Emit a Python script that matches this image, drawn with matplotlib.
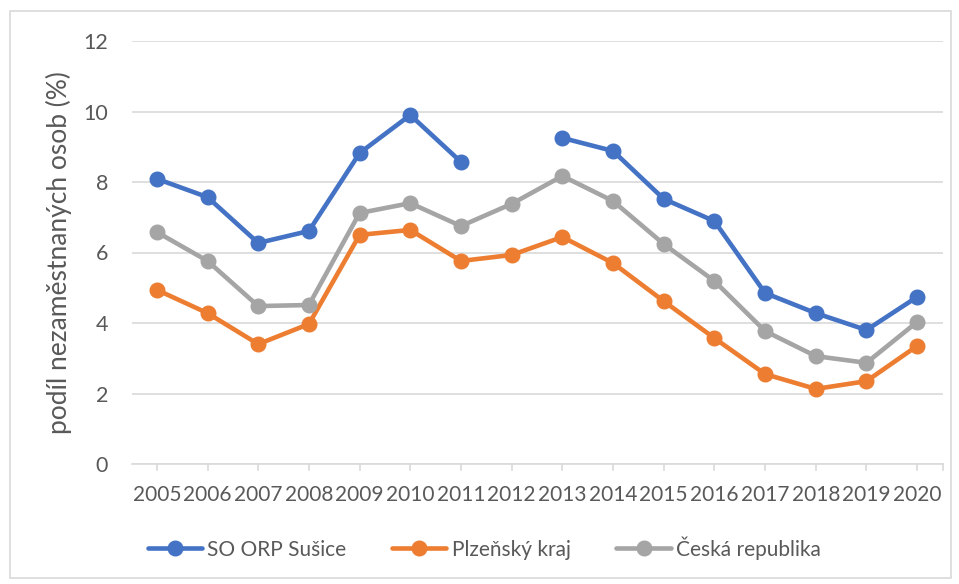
import numpy as np
import matplotlib
matplotlib.use('Agg')
import matplotlib.pyplot as plt
from matplotlib.patches import Rectangle

# data
years = ['2005', '2006', '2007', '2008', '2009', '2010', '2011', '2012',
         '2013', '2014', '2015', '2016', '2017', '2018', '2019', '2020']
susice = [8.09, 7.57, 6.27, 6.61, 8.82, 9.90, 8.57, np.nan,
          9.25, 8.88, 7.52, 6.89, 4.85, 4.28, 3.80, 4.74]
plzensky = [4.94, 4.28, 3.40, 3.97, 6.50, 6.64, 5.76, 5.93,
            6.44, 5.70, 4.62, 3.57, 2.55, 2.13, 2.35, 3.35]
cr = [6.58, 5.76, 4.48, 4.51, 7.12, 7.40, 6.75, 7.38,
      8.17, 7.46, 6.24, 5.19, 3.77, 3.06, 2.87, 4.03]
series_names = ['SO ORP Sušice', 'Plzeňský kraj', 'Česká republika']
colors = ['#4472C4', '#ED7D31', '#A5A5A5']

plt.rcParams['font.family'] = ['Lato', 'DejaVu Sans']
txt = '#595959'
grid = '#D9D9D9'

W, H = 959, 584
fig = plt.figure(figsize=(W / 100, H / 100), dpi=100)

# light frame around the whole chart (Excel chart area)
fig.patches.append(Rectangle((10 / W, 1 - 578 / H), 941 / W, 567 / H,
                             transform=fig.transFigure, fill=False,
                             edgecolor=grid, lw=1.2))

ax = fig.add_axes([131.5 / W, 120 / H, 811 / W, 423 / H])
x = np.arange(len(years))

for vals, name, c in zip([susice, plzensky, cr], series_names, colors):
    ax.plot(x, vals, color=c, lw=3.3, marker='o', markersize=10.5,
            label=name, solid_capstyle='round', zorder=3)

ax.set_xlim(-0.5, len(years) - 0.5)
ax.set_ylim(0, 12)
ax.set_yticks(np.arange(0, 13, 2))
ax.grid(axis='y', color=grid, lw=1.2)
ax.set_axisbelow(True)
for s in ['top', 'right', 'left']:
    ax.spines[s].set_visible(False)
ax.spines['bottom'].set_color(grid)
ax.spines['bottom'].set_linewidth(1.2)

ax.set_xticks(x)
ax.set_xticklabels(years)
ax.tick_params(axis='x', length=0, pad=15, labelsize=15, labelcolor=txt)
ax.tick_params(axis='y', length=0, pad=17, labelsize=15.5, labelcolor=txt)

# small tick marks on the category axis
for xi in list(x) + [len(years) - 0.5]:
    ax.plot([xi, xi], [0, -0.18], color=grid, lw=1.2, clip_on=False, zorder=1)

ax.set_ylabel('podíl nezaměstnaných osob (%)', fontsize=19, color=txt, labelpad=8)

leg = fig.legend(loc='center', bbox_to_anchor=(0.505, 1 - 548 / H), ncol=3,
                 frameon=False, fontsize=15, handlelength=2.6,
                 columnspacing=2.2, handletextpad=0.25, labelcolor=txt)

fig.savefig('out.png', dpi=100)
